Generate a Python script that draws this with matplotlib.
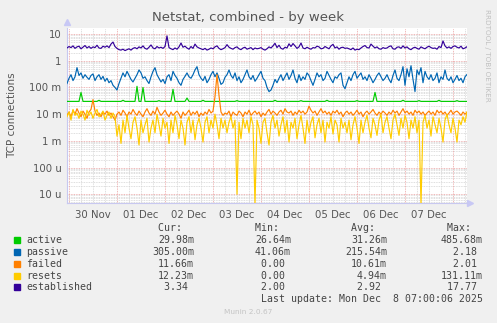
# Munin netstat week graph, redrawn with matplotlib
import numpy as np
import matplotlib
matplotlib.use('Agg')
import matplotlib.pyplot as plt
import matplotlib.dates as mdates

# hourly samples from 29 Nov 23:00 to 08 Dec 07:00
start = np.datetime64('2025-11-29T23:00')
n_pts = 201
times = start + np.arange(n_pts) * np.timedelta64(1, 'h')

active = [
    0.030, 0.030, 0.030, 0.030, 0.030, 0.030, 0.030, 0.065, 0.030, 0.030,
    0.030, 0.030, 0.030, 0.030, 0.030, 0.030, 0.033, 0.030, 0.030, 0.030,
    0.030, 0.030, 0.030, 0.030, 0.030, 0.030, 0.030, 0.030, 0.033, 0.030,
    0.030, 0.030, 0.030, 0.030, 0.030, 0.110, 0.030, 0.030, 0.100, 0.030,
    0.030, 0.030, 0.030, 0.030, 0.030, 0.030, 0.032, 0.030, 0.030, 0.030,
    0.030, 0.030, 0.030, 0.085, 0.030, 0.030, 0.030, 0.030, 0.030, 0.030,
    0.040, 0.030, 0.030, 0.030, 0.030, 0.030, 0.030, 0.030, 0.033, 0.030,
    0.030, 0.030, 0.030, 0.030, 0.030, 0.030, 0.030, 0.030, 0.030, 0.030,
    0.030, 0.030, 0.030, 0.030, 0.030, 0.032, 0.030, 0.030, 0.030, 0.030,
    0.030, 0.030, 0.030, 0.030, 0.030, 0.030, 0.030, 0.030, 0.030, 0.030,
    0.030, 0.030, 0.030, 0.030, 0.033, 0.030, 0.030, 0.030, 0.030, 0.030,
    0.030, 0.030, 0.030, 0.030, 0.030, 0.030, 0.030, 0.032, 0.030, 0.030,
    0.030, 0.030, 0.030, 0.030, 0.030, 0.030, 0.030, 0.030, 0.030, 0.030,
    0.033, 0.030, 0.030, 0.030, 0.030, 0.030, 0.030, 0.030, 0.030, 0.030,
    0.030, 0.030, 0.030, 0.030, 0.030, 0.032, 0.030, 0.030, 0.030, 0.030,
    0.030, 0.030, 0.030, 0.030, 0.065, 0.030, 0.030, 0.030, 0.030, 0.030,
    0.030, 0.030, 0.030, 0.030, 0.030, 0.030, 0.030, 0.030, 0.033, 0.030,
    0.030, 0.030, 0.030, 0.030, 0.030, 0.030, 0.032, 0.030, 0.030, 0.030,
    0.030, 0.030, 0.030, 0.030, 0.030, 0.030, 0.033, 0.030, 0.030, 0.030,
    0.030, 0.030, 0.030, 0.030, 0.030, 0.032, 0.030, 0.030, 0.030, 0.030,
    0.030,
]

passive = [
    0.14, 0.22, 0.30, 0.18, 0.25, 0.55, 0.28, 0.35, 0.22, 0.30, 0.24, 0.20, 0.28, 0.32, 0.18, 0.25, 0.30, 0.20, 0.26, 0.17,
    0.22, 0.15, 0.18, 0.12, 0.10, 0.08, 0.14, 0.22, 0.35, 0.25, 0.40, 0.28, 0.20, 0.16, 0.22, 0.30, 0.45, 0.35, 0.22, 0.25,
    0.18, 0.14, 0.25, 0.40, 0.55, 0.30, 0.22, 0.16, 0.20, 0.14, 0.25, 0.30, 0.18, 0.40, 0.28, 0.22, 0.15, 0.12, 0.20, 0.26,
    0.35, 0.25, 0.22, 0.30, 0.45, 0.60, 0.30, 0.22, 0.18, 0.26, 0.15, 0.20, 0.30, 0.40, 0.25, 0.35, 0.22, 0.13, 0.15, 0.24,
    0.30, 0.45, 0.28, 0.22, 0.35, 0.18, 0.25, 0.15, 0.20, 0.30, 0.45, 0.25, 0.20, 0.28, 0.17, 0.22, 0.30, 0.40, 0.22, 0.18,
    0.10, 0.07, 0.08, 0.12, 0.20, 0.15, 0.22, 0.30, 0.18, 0.25, 0.35, 0.20, 0.28, 0.45, 0.22, 0.15, 0.30, 0.18, 0.25, 0.20,
    0.35, 0.28, 0.18, 0.12, 0.20, 0.35, 0.25, 0.30, 0.18, 0.22, 0.40, 0.28, 0.20, 0.15, 0.25, 0.22, 0.30, 0.35, 0.12, 0.09,
    0.15, 0.25, 0.18, 0.30, 0.40, 0.22, 0.28, 0.35, 0.20, 0.25, 0.18, 0.30, 0.22, 0.15, 0.20, 0.28, 0.35, 0.25, 0.18, 0.22,
    0.30, 0.20, 0.15, 0.28, 0.45, 0.22, 0.18, 0.30, 0.60, 0.12, 0.50, 0.25, 0.65, 0.20, 0.07, 0.45, 0.30, 0.55, 0.15, 0.40,
    0.25, 0.20, 0.30, 0.18, 0.22, 0.35, 0.15, 0.25, 0.20, 0.45, 0.22, 0.18, 0.25, 0.15, 0.20, 0.28, 0.18, 0.22, 0.15, 0.25,
    0.305,
]

failed = [
    0.009, 0.012, 0.008, 0.014, 0.010, 0.016, 0.011, 0.008, 0.013, 0.010, 0.007, 0.012, 0.015, 0.035, 0.013, 0.009, 0.011, 0.008, 0.012, 0.010,
    0.013, 0.009, 0.011, 0.008, 0.006, 0.010, 0.012, 0.009, 0.014, 0.011, 0.008, 0.012, 0.010, 0.015, 0.011, 0.009, 0.013, 0.010, 0.008, 0.012,
    0.016, 0.011, 0.009, 0.013, 0.010, 0.018, 0.012, 0.009, 0.011, 0.014, 0.010, 0.008, 0.012, 0.009, 0.011, 0.013, 0.010, 0.007, 0.012, 0.009,
    0.011, 0.014, 0.009, 0.012, 0.010, 0.013, 0.008, 0.011, 0.009, 0.012, 0.010, 0.015, 0.011, 0.013, 0.045, 0.300, 0.050, 0.012, 0.009, 0.011,
    0.010, 0.013, 0.008, 0.012, 0.010, 0.009, 0.013, 0.011, 0.008, 0.012, 0.010, 0.014, 0.009, 0.011, 0.013, 0.010, 0.012, 0.008, 0.011, 0.009,
    0.012, 0.015, 0.010, 0.013, 0.011, 0.009, 0.012, 0.014, 0.010, 0.016, 0.012, 0.011, 0.013, 0.009, 0.012, 0.010, 0.014, 0.011, 0.013, 0.010,
    0.012, 0.020, 0.014, 0.011, 0.013, 0.009, 0.012, 0.016, 0.011, 0.013, 0.010, 0.012, 0.009, 0.013, 0.011, 0.014, 0.010, 0.012, 0.008, 0.011,
    0.013, 0.010, 0.012, 0.009, 0.011, 0.014, 0.010, 0.012, 0.008, 0.011, 0.013, 0.010, 0.012, 0.015, 0.011, 0.009, 0.012, 0.010, 0.013, 0.011,
    0.009, 0.012, 0.010, 0.014, 0.011, 0.013, 0.009, 0.012, 0.016, 0.011, 0.013, 0.010, 0.012, 0.009, 0.014, 0.011, 0.013, 0.010, 0.012, 0.009,
    0.011, 0.013, 0.010, 0.012, 0.009, 0.014, 0.011, 0.013, 0.010, 0.012, 0.009, 0.011, 0.014, 0.010, 0.012, 0.013, 0.011, 0.009, 0.012, 0.010,
    0.0117,
]

resets = [
    0.008, 0.012, 0.006, 0.015, 0.009, 0.011, 0.007, 0.013, 0.010, 0.006, 0.014, 0.009, 0.012, 0.007, 0.011, 0.015, 0.008, 0.010, 0.013, 0.006,
    0.009, 0.012, 0.007, 0.011, 0.008, 0.0015, 0.004, 0.0008, 0.006, 0.002, 0.009, 0.003, 0.0012, 0.005, 0.008, 0.003, 0.0007, 0.006, 0.002, 0.004,
    0.007, 0.0009, 0.003, 0.006, 0.002, 0.010, 0.004, 0.0015, 0.007, 0.003, 0.005, 0.0008, 0.006, 0.002, 0.009, 0.004, 0.0012, 0.006, 0.003, 0.0007,
    0.005, 0.008, 0.002, 0.006, 0.0011, 0.004, 0.007, 0.003, 0.0009, 0.005, 0.008, 0.002, 0.006, 0.003, 0.010, 0.004, 0.0012, 0.007, 0.003, 0.006,
    0.002, 0.005, 0.008, 0.003, 0.006, 0.00001, 0.005, 0.0012, 0.007, 0.003, 0.006, 0.002, 0.008, 0.004, 0.000004, 0.006, 0.003, 0.0008, 0.005, 0.007,
    0.002, 0.0007, 0.005, 0.009, 0.003, 0.006, 0.0015, 0.004, 0.008, 0.002, 0.006, 0.0009, 0.005, 0.003, 0.007, 0.0012, 0.004, 0.009, 0.003, 0.0008,
    0.006, 0.002, 0.005, 0.008, 0.0013, 0.004, 0.007, 0.002, 0.006, 0.0009, 0.005, 0.003, 0.008, 0.0018, 0.006, 0.004, 0.0009, 0.007, 0.003, 0.005,
    0.002, 0.006, 0.0011, 0.004, 0.008, 0.003, 0.0008, 0.006, 0.002, 0.005, 0.009, 0.003, 0.0013, 0.007, 0.004, 0.0016, 0.006, 0.010, 0.002, 0.005,
    0.008, 0.003, 0.0012, 0.006, 0.010, 0.004, 0.0016, 0.007, 0.003, 0.009, 0.005, 0.0012, 0.006, 0.003, 0.008, 0.002, 0.006, 0.000004, 0.005, 0.009,
    0.003, 0.006, 0.0015, 0.008, 0.004, 0.002, 0.007, 0.003, 0.0009, 0.006, 0.010, 0.004, 0.002, 0.007, 0.003, 0.0009, 0.006, 0.004, 0.008, 0.005,
    0.0122,
]

established = [
    3.0, 3.4, 3.1, 3.6, 2.9, 3.3, 3.5, 2.8, 3.2, 3.7, 3.0, 3.4, 2.9, 3.3, 3.1, 3.8, 3.0, 2.9, 3.5, 3.2,
    3.6, 3.1, 4.2, 5.0, 3.4, 2.9, 2.6, 2.5, 2.7, 2.4, 2.6, 2.8, 2.5, 2.9, 3.1, 2.8, 3.3, 3.0, 3.6, 2.9,
    2.7, 3.2, 3.9, 3.0, 2.8, 3.4, 3.0, 3.2, 2.9, 3.4, 8.5, 3.1, 2.8, 2.6, 3.0, 2.7, 3.3, 4.6, 3.2, 3.5,
    3.0, 2.7, 3.4, 2.9, 4.2, 3.3, 3.0, 2.8, 2.6, 2.9, 2.5, 2.7, 3.0, 2.8, 3.3, 3.6, 2.9, 2.6, 2.8, 3.1,
    4.0, 3.2, 2.9, 2.7, 3.1, 3.3, 2.8, 2.6, 3.0, 3.2, 2.7, 2.9, 3.1, 2.6, 3.0, 2.8, 2.9, 3.1, 2.7, 2.5,
    2.8, 3.3, 3.0, 3.6, 4.5, 3.1, 3.8, 2.9, 2.7, 3.2, 3.0, 4.3, 3.4, 4.4, 3.6, 2.9, 3.3, 4.6, 3.0, 2.8,
    3.2, 2.9, 2.7, 3.1, 3.0, 3.5, 3.3, 2.8, 2.9, 3.4, 3.1, 2.8, 3.6, 4.1, 3.0, 3.3, 2.7, 3.1, 3.2, 2.9,
    3.0, 2.8, 2.6, 3.0, 2.5, 2.7, 2.6, 3.0, 3.4, 3.7, 3.1, 3.0, 4.2, 3.5, 3.0, 3.3, 2.8, 2.7, 3.1, 2.9,
    3.0, 3.4, 3.6, 2.8, 2.7, 3.2, 3.3, 2.9, 3.6, 3.0, 3.3, 2.8, 2.6, 3.0, 3.2, 2.9, 2.7, 3.3, 3.0, 2.8,
    3.2, 3.5, 3.1, 2.9, 3.0, 2.7, 3.4, 3.1, 5.5, 3.6, 3.0, 3.3, 2.9, 3.4, 3.6, 3.2, 3.0, 3.5, 2.8, 3.0,
    3.34,
]

names = ['active', 'passive', 'failed', 'resets', 'established']
colors = ['#00CC00', '#0066B3', '#FF8000', '#FFCC00', '#330099']
cur_vals = ['29.98m', '305.00m', '11.66m', '12.23m', '3.34 ']
min_vals = ['26.64m', '41.06m', '0.00 ', '0.00 ', '2.00 ']
avg_vals = ['31.26m', '215.54m', '10.61m', '4.94m', '2.92 ']
max_vals = ['485.68m', '2.18 ', '2.01 ', '131.11m', '17.77 ']

ytick_vals = [10, 1, 0.1, 0.01, 1e-3, 1e-4, 1e-5]
ytick_labels = ['10', '1', '100 m', '10 m', '1 m', '100 u', '10 u']
day_labels = ['30 Nov', '01 Dec', '02 Dec', '03 Dec', '04 Dec', '05 Dec', '06 Dec', '07 Dec']

W, H = 497, 323
fig = plt.figure(figsize=(W / 100, H / 100), dpi=100, facecolor='#F0F0F0')
ax = fig.add_axes([67 / W, 1 - 203 / H, 400 / W, 175 / H])
ax.set_facecolor('white')

t_end = start + np.timedelta64(200, 'h')
ax.set_xlim(mdates.date2num(start), mdates.date2num(t_end))
ax.set_yscale('log')
ax.set_ylim(4.7e-6, 16.8)

# grid: gray dotted minors, red dotted majors
for dec in range(-6, 2):
    for k in range(2, 10):
        ax.axhline(k * 10.0 ** dec, color='#d4d4d4', lw=0.6, ls=(0, (1, 1)), zorder=1)
for v in ytick_vals:
    ax.axhline(v, color='#eaa0a0', lw=0.6, ls=(0, (1, 1)), zorder=1.1)
for h in range(0, 201):
    t = start + np.timedelta64(h, 'h')
    hh = int((t - t.astype('datetime64[D]')) / np.timedelta64(1, 'h'))
    if hh == 0:
        ax.axvline(mdates.date2num(t), color='#eaa0a0', lw=0.6, ls=(0, (1, 1)), zorder=1.1)
    elif hh % 6 == 0:
        ax.axvline(mdates.date2num(t), color='#d4d4d4', lw=0.6, ls=(0, (1, 1)), zorder=1)

tnum = mdates.date2num(times)
for series, c in zip([active, passive, failed, resets, established], colors):
    ax.plot(tnum, series, color=c, lw=0.85, zorder=3)

ax.set_yticks(ytick_vals)
ax.set_yticklabels(ytick_labels)
ax.yaxis.set_minor_locator(matplotlib.ticker.NullLocator())
noon = [mdates.date2num(np.datetime64('2025-11-30T12:00') + np.timedelta64(d, 'D')) for d in range(8)]
ax.set_xticks(noon)
ax.set_xticklabels(day_labels)
ax.tick_params(axis='both', length=0, labelsize=7.3, colors='#555555', pad=4)
ax.tick_params(axis='x', pad=5)

for s in ['top', 'right']:
    ax.spines[s].set_visible(False)
for s in ['left', 'bottom']:
    ax.spines[s].set_color('#c8c8f0')
    ax.spines[s].set_linewidth(0.8)
ax.plot([0], [1.035], marker='^', ms=4, color='#c8c8f5', transform=ax.transAxes, clip_on=False)
ax.plot([1.008], [0], marker='>', ms=4, color='#c8c8f5', transform=ax.transAxes, clip_on=False)

fig.text(0.5, 1 - 17 / H, 'Netstat, combined - by week', ha='center', va='center',
         fontsize=9.5, color='#555555')
fig.text(12 / W, 1 - 115 / H, 'TCP connections', rotation=90, ha='center', va='center',
         fontsize=7.5, color='#555555')
fig.text(487 / W, 1 - 55 / H, 'RRDTOOL / TOBI OETIKER', rotation=270, ha='center', va='center',
         fontsize=5.2, color='#c0c0c0')

# legend table
mono = dict(family='DejaVu Sans Mono', fontsize=7.1, color='#444444', va='center')
cols_x = [194, 291, 387, 483]
heads = ['Cur:', 'Min:', 'Avg:', 'Max:']
for x, h in zip(cols_x, heads):
    fig.text(x / W, 1 - 228 / H, h + '  ', ha='right', **mono)
rows_y = [240, 252, 264, 276, 287]
for i, name in enumerate(names):
    y = 1 - rows_y[i] / H
    fig.patches.append(matplotlib.patches.Rectangle((14 / W, y - 3 / H), 6 / W, 6 / H,
                                                    transform=fig.transFigure, color=colors[i]))
    fig.text(26 / W, y, name, ha='left', **mono)
    for x, vals in zip(cols_x, [cur_vals, min_vals, avg_vals, max_vals]):
        fig.text(x / W, y, vals[i], ha='right', **mono)
fig.text(483 / W, 1 - 299 / H, 'Last update: Mon Dec  8 07:00:06 2025', ha='right', **mono)
fig.text(0.5, 1 - 312 / H, 'Munin 2.0.67', ha='center', va='center', fontsize=5.3, color='#c4c4c4')

fig.savefig('out.png', dpi=100, facecolor=fig.get_facecolor())
